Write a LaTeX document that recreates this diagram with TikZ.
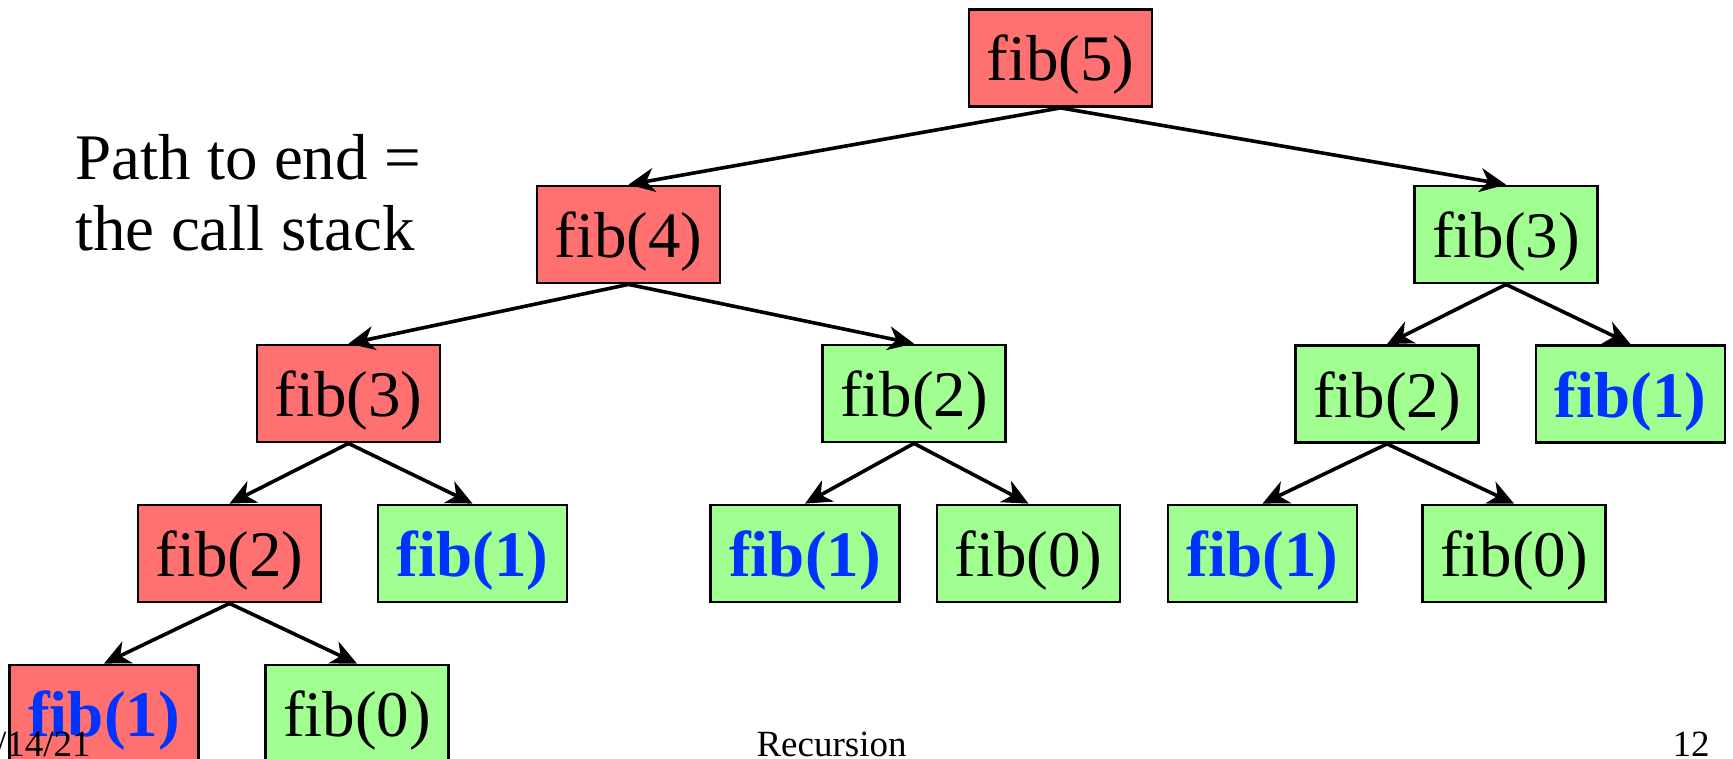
\documentclass[tikz,border=0pt]{standalone}
\usepackage{fontspec}
\setmainfont{Liberation Serif}
\usetikzlibrary{arrows.meta}
\definecolor{redfill}{RGB}{255,112,112}
\definecolor{greenfill}{RGB}{160,255,144}
\definecolor{leafblue}{RGB}{0,51,255}
\begin{document}
\begin{tikzpicture}[x=0.5pt,y=-0.5pt,
  fibbox/.style={draw=black, line width=1.4pt, inner sep=0pt, minimum width=91.5pt, minimum height=48.5pt, text height=23pt, text depth=0pt, font=\fontsize{32.5}{38}\selectfont},
  redbox/.style={fibbox, fill=redfill},
  greenbox/.style={fibbox, fill=greenfill},
  leaf/.style={minimum width=94.5pt, font=\fontsize{32.5}{38}\selectfont\bfseries, text=leafblue},
  call/.style={-{Stealth[length=13pt,width=12pt,inset=4pt]}, line width=1.8pt},
  big/.style={font=\fontsize{32.5}{38}\selectfont, inner sep=0pt},
  footer/.style={font=\fontsize{18.5}{22}\selectfont, inner sep=0pt}]
\useasboundingbox (0,0) rectangle (1733,759);
\node[redbox] (n5) at (1060.5,58) {fib(5)};
\node[redbox] (n4) at (628.5,234.5) {fib(4)};
\node[greenbox] (n3r) at (1506,234.5) {fib(3)};
\node[redbox] (n3l) at (348.5,393.5) {fib(3)};
\node[greenbox] (n2m) at (914,393.5) {fib(2)};
\node[greenbox] (n2r) at (1387,394) {fib(2)};
\node[greenbox,leaf] (n1r) at (1630.5,394) {fib(1)};
\node[redbox] (n2l) at (229.5,553.5) {fib(2)};
\node[greenbox,leaf] (n1a) at (472.5,553.5) {fib(1)};
\node[greenbox,leaf] (n1b) at (805,553.5) {fib(1)};
\node[greenbox] (n0b) at (1028.5,553.5) {fib(0)};
\node[greenbox,leaf] (n1c) at (1262.5,553.5) {fib(1)};
\node[greenbox] (n0c) at (1514,553.5) {fib(0)};
\node[redbox,leaf] (n1d) at (104,713.5) {fib(1)};
\node[greenbox] (n0d) at (357,713.5) {fib(0)};
\draw[call] (n5.south) -- (n4.north);
\draw[call] (n5.south) -- (n3r.north);
\draw[call] (n4.south) -- (n3l.north);
\draw[call] (n4.south) -- (n2m.north);
\draw[call] (n3r.south) -- (n2r.north);
\draw[call] (n3r.south) -- (n1r.north);
\draw[call] (n3l.south) -- (n2l.north);
\draw[call] (n3l.south) -- (n1a.north);
\draw[call] (n2m.south) -- (n1b.north);
\draw[call] (n2m.south) -- (n0b.north);
\draw[call] (n2r.south) -- (n1c.north);
\draw[call] (n2r.south) -- (n0c.north);
\draw[call] (n2l.south) -- (n1d.north);
\draw[call] (n2l.south) -- (n0d.north);
\node[big, anchor=base west] (cap1) at (75,180) {Path to end =};
\node[big, anchor=base west] (cap2) at (75,250) {the call stack};
\node[footer, anchor=base] (title) at (831.5,756) {Recursion};
\node[footer, anchor=base east] (page) at (1710,756) {12};
\node[footer, anchor=base east] (date) at (91,756) {4/14/21};
\end{tikzpicture}
\end{document}
